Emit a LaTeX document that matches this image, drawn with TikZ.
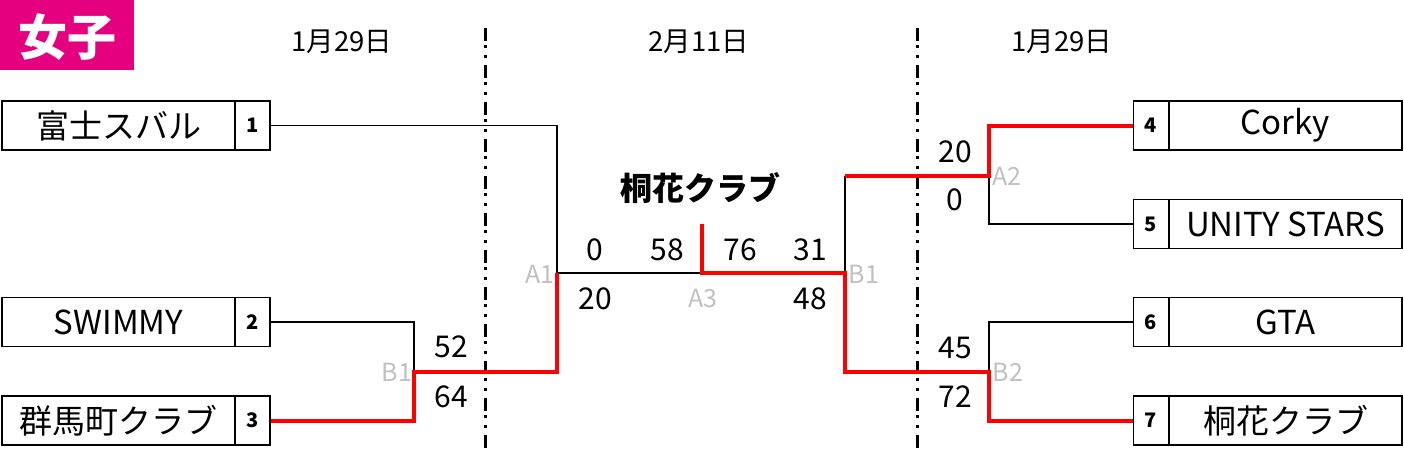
\documentclass[tikz,border=0pt]{standalone}
\usepackage{fontspec}
\setmainfont{Noto Sans CJK JP}
\definecolor{mag}{HTML}{E4007F}
\definecolor{lbl}{HTML}{C0C0C0}
\definecolor{win}{HTML}{FF0000}
\newcommand{\fs}[1]{\fontsize{#1}{#1}\selectfont}
\begin{document}
\begin{tikzpicture}[x=1pt,y=-1pt,
  namebox/.style={draw,line width=1.2pt,minimum width=233pt,minimum height=49pt,inner sep=0pt,font=\fs{33}},
  numbox/.style={draw,line width=1.2pt,minimum width=35pt,minimum height=49pt,inner sep=0pt,font=\fs{20}\bfseries},
  lose/.style={line width=1.2pt,black},
  winl/.style={line width=4pt,win},
  score/.style={inner sep=0pt,font=\fs{30}},
  tag/.style={inner sep=0pt,font=\fs{25},text=lbl},
  datel/.style={inner sep=0pt,font=\fs{27.5}},
  sep/.style={line width=3pt,dash pattern=on 13pt off 4pt on 3pt off 7pt on 3pt off 7pt}]
\useasboundingbox (0,0) rectangle (1404,450);
% title
\node[fill=mag,minimum width=134pt,minimum height=70pt,inner sep=0pt,anchor=north west] (title) at (0,0) {};
\node[text=white,font=\fs{49}\bfseries,inner sep=0pt] (titletext) at (67,37) {女子};
% dates
\node[datel] (d1) at (342,42) {1月29日};
\node[datel] (d2) at (699,42) {2月11日};
\node[datel] (d3) at (1062,42) {1月29日};
% separators
\coordinate (s1a) at (485,28); \coordinate (s1b) at (485,450);
\coordinate (s2a) at (917,28); \coordinate (s2b) at (917,450);
\draw[sep] (s1a) -- (s1b);
\draw[sep] (s2a) -- (s2b);
% left boxes
\node[namebox] (t1) at (118.5,125.5) {富士スバル};
\node[numbox] (n1) at (252.5,125.5) {1};
\node[namebox] (t2) at (118.5,322) {SWIMMY};
\node[numbox] (n2) at (252.5,322) {2};
\node[namebox] (t3) at (118.5,420.5) {群馬町クラブ};
\node[numbox] (n3) at (252.5,420.5) {3};
% right boxes
\node[numbox] (n4) at (1151,125.5) {4};
\node[namebox] (t4) at (1285.5,125.5) {Corky};
\node[numbox] (n5) at (1151,224) {5};
\node[namebox] (t5) at (1285.5,224) {UNITY STARS};
\node[numbox] (n6) at (1151,322) {6};
\node[namebox] (t6) at (1285.5,322) {GTA};
\node[numbox] (n7) at (1151,420.5) {7};
\node[namebox] (t7) at (1285.5,420.5) {桐花クラブ};
% junctions
\coordinate (A1) at (557,273);
\coordinate (A1b) at (557,372);
\coordinate (A3) at (702,273);
\coordinate (A3t) at (702,224);
\coordinate (B1R) at (845,273);
\coordinate (B1Rt) at (845,176);
\coordinate (B1Rb) at (845,372);
\coordinate (B1L) at (414,372);
\coordinate (A2) at (989,176);
\coordinate (B2) at (989,372);
% losing lines
\draw[lose] (n1.east) -| (A1);
\draw[lose] (A1) -- (A3);
\draw[lose] (n2.east) -| (B1L);
\draw[lose] (B1R) -- (B1Rt);
\draw[lose] (A2) |- (n5.west);
\draw[lose] (B2) |- (n6.west);
% winning lines
\draw[winl] (n3.east) -| (B1L) -- (A1b) -- (A1);
\draw[winl] (A3t) -- (A3) -- (B1R) -- (B1Rb) -- (B2) |- (n7.west);
\draw[winl] (B1Rt) -- (A2) |- (n4.west);
% tags
\node[tag,anchor=east] (gA1) at (555,274) {A1};
\node[tag] (gA3) at (703,298) {A3};
\node[tag] (gB1r) at (864,274) {B1};
\node[tag] (gB1l) at (397,372) {B1};
\node[tag] (gA2) at (1007,176) {A2};
\node[tag] (gB2) at (1008,372) {B2};
% scores
\node[score] (s52) at (451,347) {52};
\node[score] (s64) at (451,397) {64};
\node[score] (s0a) at (595,250) {0};
\node[score] (s58) at (667,250) {58};
\node[score] (s76) at (740,250) {76};
\node[score] (s31) at (810,250) {31};
\node[score] (s20a) at (595,299) {20};
\node[score] (s48) at (810,299) {48};
\node[score] (s20b) at (955,152) {20};
\node[score] (s0b) at (955,200) {0};
\node[score] (s45) at (955,348) {45};
\node[score] (s72) at (955,397) {72};
% champion
\node[inner sep=0pt,font=\fs{32}\bfseries] (champ) at (700,188) {桐花クラブ};
\end{tikzpicture}
\end{document}
